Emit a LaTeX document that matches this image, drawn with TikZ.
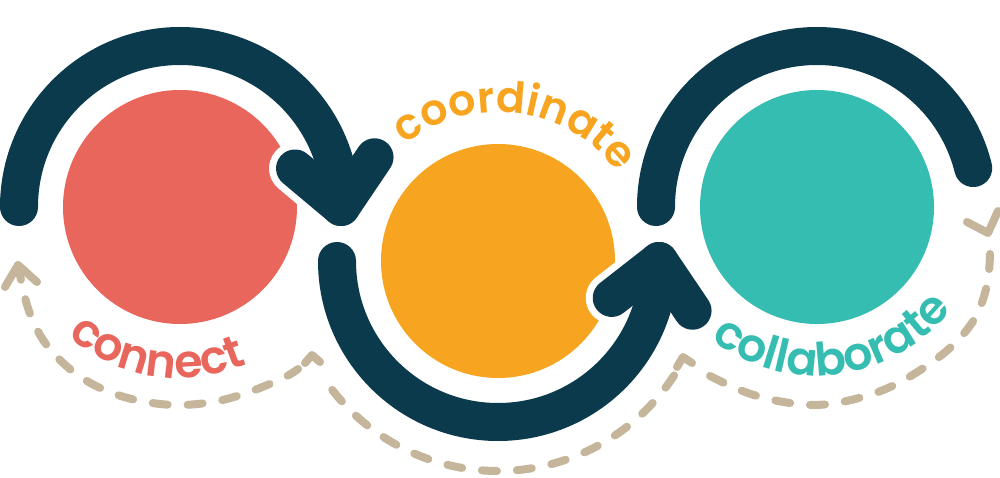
\documentclass[tikz,border=0pt]{standalone}
\usepackage{fontspec}
\newfontfamily\labelfont{Poppins SemiBold}
\usetikzlibrary{calc,decorations.text}

\definecolor{navy}{HTML}{0B3A4D}
\definecolor{connred}{HTML}{E8665C}
\definecolor{coordorange}{HTML}{F7A520}
\definecolor{collabteal}{HTML}{36BDB1}
\definecolor{dashtan}{HTML}{C4B59B}

\tikzset{
  blob/.style={circle, inner sep=0pt, minimum size=234pt},
  navyarc/.style={draw=navy, line width=38pt, line cap=round},
  headgap/.style={draw=white, line width=52pt, line cap=round, line join=round},
  navyhead/.style={draw=navy, line width=38pt, line cap=round, line join=round},
  backflow/.style={draw=dashtan, line width=8pt, line cap=round, dash pattern=on 15pt off 20pt},
  backhead/.style={draw=dashtan, line width=8pt, line cap=round, line join=round},
  word/.style={decorate, decoration={text along path, text align=center}}
}

\begin{document}
\begin{tikzpicture}[x=1pt,y=-1pt]
\useasboundingbox (0,0) rectangle (1000,478);

% the three circles
\node[blob, fill=connred] (connectC) at (180,207) {};
\node[blob, fill=coordorange] (coordC) at (498,261) {};
\node[blob, fill=collabteal] (collabC) at (817,207) {};

% dashed way back
\coordinate (leftTip) at (18,265);
\coordinate (joinA) at (312,355);
\coordinate (joinB) at (683,357);
\coordinate (rightV) at (988,233);

\draw[backflow] plot[smooth, tension=0.6] coordinates {(leftTip) (27,305) (40,335) (58,358) (82,378) (112,393) (146,402) (181,405) (218,401) (252,391) (285,377) (298,369)};
\draw[backflow] ($(coordC)+(33:210)$) arc[start angle=33, end angle=146, radius=210];
\draw[backflow] plot[smooth, tension=0.6] coordinates {(990,254) (987,285) (975,318) (952,346) (922,369) (888,388) (851,400) (815,405) (778,401) (745,392) (712,377) (703,371)};

\draw[backhead] ($(leftTip)+(-13,22)$) -- (leftTip) -- ($(leftTip)+(19,17)$);
\draw[backhead] ($(joinA)+(-7,8)$) -- (joinA) -- ($(joinA)+(8,7)$);
\draw[backhead] ($(joinB)+(-6,10)$) -- (joinB) -- ($(joinB)+(9,6)$);
\draw[backhead] ($(rightV)+(-21,-11)$) -- (rightV) -- ($(rightV)+(10,-22)$);

% the dark arrows
\coordinate (tipA) at ($(connectC)+(0:161)$);
\coordinate (tipB) at ($(coordC)+(0:161)$);

\draw[headgap] ($(tipA)+(220:60)$) -- (tipA) -- ($(tipA)+(304:60)$);
\draw[headgap] ($(tipB)+(142:60)$) -- (tipB) -- ($(tipB)+(56:60)$);

\draw[navyarc] ($(connectC)+(180:161)$) arc[start angle=180, end angle=360, radius=161];
\draw[navyarc] ($(coordC)+(180:161)$) arc[start angle=180, end angle=0, radius=161];
\draw[navyarc] ($(collabC)+(180:161)$) arc[start angle=180, end angle=346, radius=161];

\draw[navyhead] ($(tipA)+(220:60)$) -- (tipA) -- ($(tipA)+(304:60)$);
\draw[navyhead] ($(tipB)+(142:60)$) -- (tipB) -- ($(tipB)+(56:60)$);

% curved words
\path[word, decoration={text={|\labelfont\fontsize{46}{46}\selectfont\color{connred}|connect}}]
  ($(connectC)+(169:171)$) arc[start angle=169, end angle=29, radius=171];
\path[word, decoration={text={|\labelfont\fontsize{43}{43}\selectfont\color{coordorange}|coordinate}}]
  ($(coordC)+(207.5:149)$) arc[start angle=207.5, end angle=347.5, radius=149];
\path[word, decoration={text={|\labelfont\fontsize{46}{46}\selectfont\color{collabteal}|collaborate}}]
  ($(collabC)+(153:169)$) arc[start angle=153, end angle=13, radius=169];

\end{tikzpicture}
\end{document}
